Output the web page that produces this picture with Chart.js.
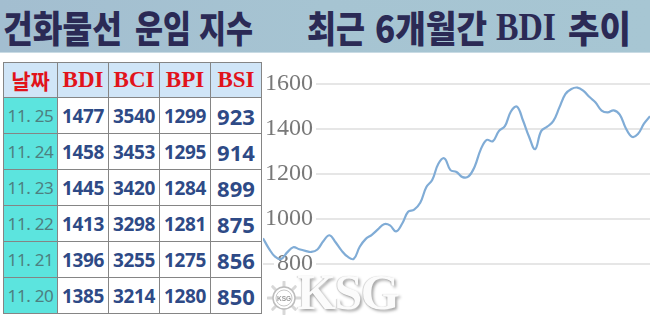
<!DOCTYPE html>
<html><head><meta charset="utf-8">
<script src="https://cdn.jsdelivr.net/npm/chart.js@4"></script>
<style>
html,body{margin:0;padding:0;background:#fff;width:650px;height:319px;overflow:hidden;position:relative;font-family:'Noto Sans',sans-serif}
#band{position:absolute;left:0;top:0;width:650px;height:52px;background:linear-gradient(90deg,#a3bed0 0%,#a6c4d2 50%,#a7c6d3 100%);border-bottom:1px solid #c9dbe4}
.w{position:absolute;top:7px;font-family:'Noto Sans CJK KR';font-weight:900;font-size:37px;line-height:40px;color:#2b2a55;white-space:nowrap;transform-origin:0 0}
.w.serif{font-family:'Liberation Serif';font-weight:700;font-size:41px;top:6px}
#tbl{position:absolute;left:3px;top:62px;border-collapse:collapse;table-layout:fixed;width:258px}
#tbl td{border:1px solid #858585;padding:0;text-align:center;white-space:nowrap;overflow:hidden}
#tbl tr.h td{height:34px;background:#d0e5f7;color:#e1131b;font-family:'Liberation Serif';font-weight:700;font-size:23px}
#tbl tr.h td.k{font-family:'Noto Sans CJK KR';font-size:21px}
#tbl tr.r td{height:35px;color:#2e4a86;font-weight:700;font-size:19px;letter-spacing:-0.4px}
#tbl tr.r td.d{background:#5ce4de;color:#4d7f80;font-weight:400;font-size:17px;letter-spacing:-0.3px}
#tbl tr.r td.s{font-size:22px;letter-spacing:0}
#cw{position:absolute;left:263px;top:61px;width:387px;height:248px}
#ksg{position:absolute;left:297px;top:264px;font-family:'Liberation Serif';font-weight:700;font-size:50px;line-height:56px;letter-spacing:-1.5px;color:#fbfbfb;text-shadow:2px 2px 3px rgba(0,0,0,0.35),-1px 0 1px rgba(0,0,0,0.18);z-index:5}
#logo{position:absolute;left:267px;top:281px;z-index:5}
</style></head>
<body>
<div id="band">
  <span class="w" data-l="3" data-r="122">건화물선</span>
  <span class="w" data-l="135" data-r="191">운임</span>
  <span class="w" data-l="199" data-r="253">지수</span>
  <span class="w" data-l="307" data-r="365">최근</span>
  <span class="w" data-l="375" data-r="487">6개월간</span>
  <span class="w serif" data-l="496" data-r="556">BDI</span>
  <span class="w" data-l="568" data-r="631">추이</span>
</div>
<table id="tbl">
  <colgroup><col style="width:54px"><col style="width:51px"><col style="width:51px"><col style="width:51px"><col style="width:51px"></colgroup>
  <tbody id="tb"></tbody>
</table>
<div id="cw"><canvas id="c" width="387" height="248"></canvas></div>
<svg id="logo" width="34" height="34" viewBox="0 0 34 34">
  <g stroke="#d8d8d8" stroke-width="3" stroke-linecap="round">
    <line x1="17" y1="1" x2="17" y2="33"/><line x1="1" y1="17" x2="33" y2="17"/>
    <line x1="5.7" y1="5.7" x2="28.3" y2="28.3"/><line x1="28.3" y1="5.7" x2="5.7" y2="28.3"/>
  </g>
  <circle cx="17" cy="17" r="11" fill="#fff" stroke="#bdbdbd" stroke-width="1.5"/>
  <circle cx="17" cy="17" r="8" fill="#fff" stroke="#c8c8c8" stroke-width="1"/>
  <text x="17" y="19.5" text-anchor="middle" font-family="Liberation Sans" font-weight="700" font-size="6.5" fill="#9a9a9a">KSG</text>
</svg>
<div id="ksg">KSG</div>
<script>
// ---- table data ----
const tableHeaders = ['날짜', 'BDI', 'BCI', 'BPI', 'BSI'];
const tableDates = ['11. 25', '11. 24', '11. 23', '11. 22', '11. 21', '11. 20'];
const tableBDI = [1477, 1458, 1445, 1413, 1396, 1385];
const tableBCI = [3540, 3453, 3420, 3298, 3255, 3214];
const tableBPI = [1299, 1295, 1284, 1281, 1275, 1280];
const tableBSI = [923, 914, 899, 875, 856, 850];

// ---- chart data (BDI, last 6 months) ----
const bdi = [914,867,832,822,851,874,865,858,853,864,
             902,927,896,859,832,822,876,911,929,953,
             976,971,944,978,1031,1041,1071,1140,1173,1244,
             1268,1216,1208,1185,1188,1231,1307,1350,1344,1389,
             1411,1476,1498,1436,1364,1309,1389,1409,1433,1493,
             1553,1576,1582,1567,1540,1516,1480,1472,1481,1462,
             1402,1364,1376,1422,1455];
const days = bdi.map((_, i) => 'D' + (i + 1));
const yTicks = [800, 1000, 1200, 1400, 1600];

// title word fitting
document.querySelectorAll('.w').forEach(el => {
  const l = +el.dataset.l, r = +el.dataset.r;
  el.style.left = l + 'px';
  const w = el.getBoundingClientRect().width;
  el.style.transform = 'scaleX(' + ((r - l) / w) + ')';
});

// build table
const tb = document.getElementById('tb');
let html = '<tr class="h">' + tableHeaders.map((h, i) => '<td' + (i === 0 ? ' class="k"' : '') + '>' + h + '</td>').join('') + '</tr>';
tableDates.forEach((d, i) => {
  html += '<tr class="r"><td class="d">' + d + '</td><td>' + tableBDI[i] + '</td><td>' + tableBCI[i] +
          '</td><td>' + tableBPI[i] + '</td><td class="s">' + tableBSI[i] + '</td></tr>';
});
tb.innerHTML = html;

new Chart(document.getElementById('c'), {
  type: 'line',
  data: {
    labels: days,
    datasets: [{
      data: bdi,
      borderColor: '#80acd6',
      borderWidth: 2.2,
      pointRadius: 0,
      tension: 0.4,
      fill: false
    }]
  },
  options: {
    responsive: false,
    devicePixelRatio: 1,
    animation: false,
    layout: { padding: 0 },
    plugins: { legend: { display: false }, tooltip: { enabled: false } },
    scales: {
      x: { type: 'category', display: false, offset: false },
      y: {
        min: 600, max: 1700, position: 'left',
        afterBuildTicks: s => { s.ticks = yTicks.map(v => ({ value: v })); },
        afterFit: s => { s.paddingTop = 0; s.paddingBottom = 0; s.width = 0; },
        grid: { color: '#e6e6e6', lineWidth: 2, drawTicks: false },
        border: { display: false },
        ticks: {
          mirror: true, crossAlign: 'far', padding: 2,
          color: '#787878',
          font: { family: 'Liberation Serif', size: 24 },
          callback: v => String(v),
          showLabelBackdrop: true, backdropColor: '#ffffff',
          backdropPadding: { x: 3, y: 0 }
        }
      }
    }
  }
});
</script>
</body></html>
